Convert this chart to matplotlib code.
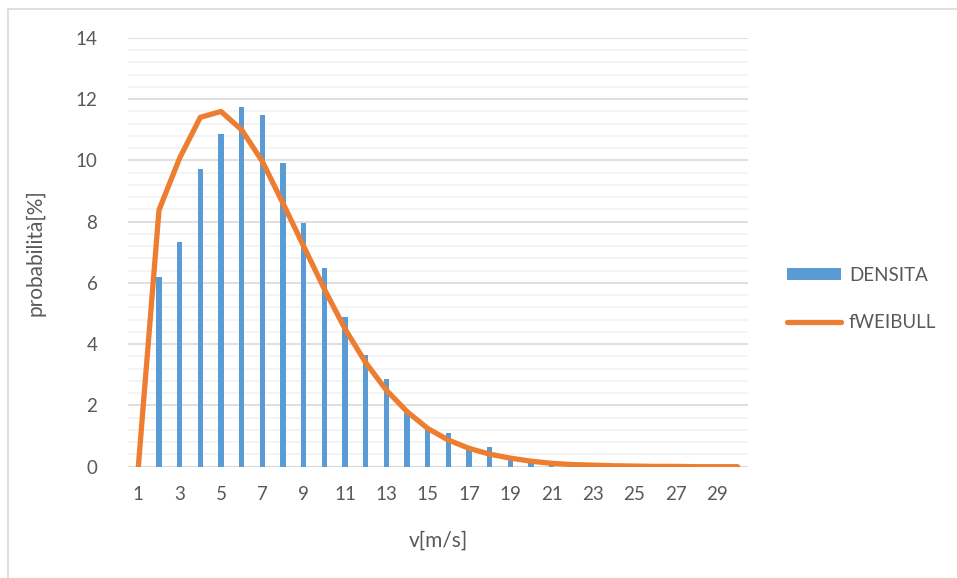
import matplotlib
matplotlib.use('Agg')
import matplotlib.pyplot as plt
from matplotlib.lines import Line2D

# dati
velocita = list(range(1, 31))
densita = [0, 6.21, 7.35, 9.72, 10.86, 11.76, 11.48, 9.93, 7.95, 6.48,
           4.9, 3.65, 2.86, 1.74, 1.25, 1.09, 0.57, 0.63, 0.3, 0.12,
           0.05, 0.02, 0.01, 0.01, 0, 0, 0, 0, 0, 0]
weibull = [0, 8.38, 10.08, 11.41, 11.6, 11.0, 9.97, 8.6, 7.2, 5.8,
           4.5, 3.4, 2.5, 1.8, 1.25, 0.87, 0.6, 0.41, 0.28, 0.18,
           0.11, 0.07, 0.05, 0.03, 0.02, 0.01, 0.01, 0.0, 0.0, 0.0]
xtick_labels = [str(v) for v in range(1, 30, 2)]

plt.rcParams['font.family'] = ['Lato', 'DejaVu Sans']
grigio = '#595959'

fig = plt.figure(figsize=(9.57, 5.78), dpi=100)
ax = fig.add_axes([128 / 957, 1 - 466.7 / 578, 620 / 957, (466.7 - 38) / 578])

# griglia
for y in [i * 0.4 for i in range(36)]:
    if abs(y / 2 - round(y / 2)) > 1e-6:
        ax.axhline(y, color='#F2F2F2', lw=1.2, zorder=0)
for y in range(2, 15, 2):
    ax.axhline(y, color='#D9D9D9', lw=1.2, zorder=0)
ax.axhline(0, color='#D9D9D9', lw=1.5, zorder=1)

barre = ax.bar(velocita, densita, width=0.25, color='#5B9BD5', label='DENSITA', zorder=2)
linea, = ax.plot(velocita, weibull, color='#ED7D31', lw=3.8, label='fWEIBULL',
                 solid_capstyle='round', solid_joinstyle='round', zorder=3)

ax.set_xlim(0.5, 30.5)
ax.set_ylim(0, 14)
ax.set_yticks(range(0, 15, 2))
ax.set_xticks(range(1, 30, 2))
ax.set_xticklabels(xtick_labels)
ax.tick_params(length=0, labelsize=13.5, colors=grigio)
ax.tick_params(axis='y', pad=22)
ax.tick_params(axis='x', pad=14)
for s in ax.spines.values():
    s.set_visible(False)

ax.set_xlabel('v[m/s]', fontsize=15, color=grigio, labelpad=20)
ax.set_ylabel('probabilità[%]', fontsize=15, color=grigio, labelpad=22)

ax.legend([barre, linea], ['DENSITA', 'fWEIBULL'], loc='upper left',
          bbox_to_anchor=(787 / 957, 1 - 267 / 578),
          bbox_transform=fig.transFigure, frameon=False, fontsize=13.5,
          labelcolor=grigio, handlelength=2.9, handleheight=0.6, handletextpad=0.4,
          labelspacing=1.6, borderaxespad=0, borderpad=0)

# cornice del grafico (solo sinistra e alto visibili)
fig.add_artist(Line2D([8 / 957, 8 / 957], [0, 1 - 9 / 578], transform=fig.transFigure,
                      color='#D9D9D9', lw=1.2))
fig.add_artist(Line2D([8 / 957, 1], [1 - 9 / 578, 1 - 9 / 578], transform=fig.transFigure,
                      color='#D9D9D9', lw=1.2))

fig.savefig('out.png', dpi=100)
